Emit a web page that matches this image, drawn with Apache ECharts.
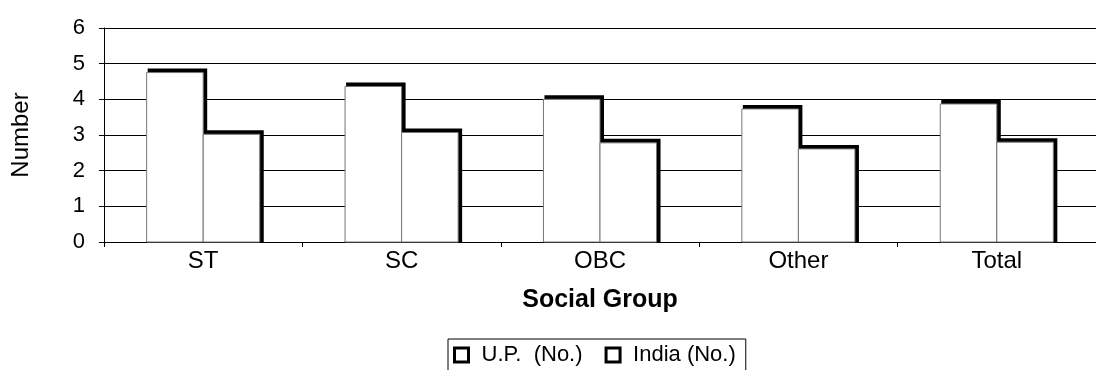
<!DOCTYPE html>
<html>
	<head>
		<meta charset="utf-8" />
		<title></title>
		<script src="https://cdn.jsdelivr.net/npm/echarts@6/dist/echarts.min.js"></script>
		<style>
			html, body { margin: 0; padding: 0; background: #fff; }
			#chart { width: 1096px; height: 370px; }
		</style>
	</head>
	<body>
		<div id="chart"></div>
		<script>
			// 数据
			var categories = ['ST', 'SC', 'OBC', 'Other', 'Total'];
			var upNo = [4.75, 4.36, 4.0, 3.73, 3.87];
			var indiaNo = [3.02, 3.07, 2.78, 2.61, 2.8];
			var yTicks = [0, 6, 1]; // min, max, interval

			var font = '"Liberation Sans", Arial, sans-serif';

			// 白色柱子, 上边和右边一条粗黑边(老Excel的样子)
			function drawBar(side) {
				return function (params, api) {
					var top = api.coord([api.value(0), api.value(1)]);
					var base = api.coord([api.value(0), 0]);
					var bw = api.size([1, 0])[0] * 0.285;
					var x0 = side < 0 ? top[0] - bw : top[0];
					return {
						type: 'group',
						children: [
							{ type: 'rect', shape: { x: x0 + 1, y: top[1] - 4, width: bw + 3, height: base[1] - top[1] + 4 }, style: { fill: '#000' } },
							{ type: 'rect', shape: { x: x0, y: top[1], width: bw, height: base[1] - top[1] }, style: { fill: '#fff', stroke: '#777', lineWidth: 1 } }
						]
					};
				};
			}
			function toData(arr) {
				return arr.map(function (v, i) { return [i, v]; });
			}

			var chart = echarts.init(document.getElementById('chart'));
			var option = {
				animation: false,
				textStyle: { fontFamily: font, color: '#000' },
				grid: { left: 104, top: 28, bottom: 128, width: 1001, containLabel: false },
				legend: {
					left: 448,
					top: 339,
					padding: [5, 10, 8, 5],
					borderColor: '#000',
					borderWidth: 1,
					itemWidth: 14,
					itemHeight: 14,
					itemGap: 22,
					icon: 'rect',
					itemStyle: { color: '#fff', borderColor: '#000', borderWidth: 3 },
					textStyle: { fontSize: 22, color: '#000', fontFamily: font, padding: [0, 0, 0, 8] },
					data: ['U.P.  (No.)', 'India (No.)']
				},
				xAxis: {
					type: 'category',
					data: categories,
					name: 'Social Group',
					nameLocation: 'middle',
					nameGap: 46,
					nameTextStyle: { fontSize: 25, fontWeight: 'bold', color: '#000' },
					axisLine: { lineStyle: { color: '#000', width: 1 } },
					axisTick: { show: true, length: 5, lineStyle: { color: '#000' } },
					axisLabel: { fontSize: 24, color: '#000', margin: 7 },
					splitLine: { show: false }
				},
				yAxis: {
					type: 'value',
					min: yTicks[0],
					max: yTicks[1],
					interval: yTicks[2],
					name: 'Number',
					nameLocation: 'middle',
					nameGap: 71,
					nameTextStyle: { fontSize: 24, color: '#000' },
					axisLine: { show: true, lineStyle: { color: '#000', width: 1 } },
					axisTick: { show: true, length: 5, inside: false, lineStyle: { color: '#000' } },
					axisLabel: { fontSize: 22, color: '#000', margin: 19 },
					splitLine: { show: true, lineStyle: { color: '#000', width: 1 } }
				},
				series: [
					{
						name: 'U.P.  (No.)',
						type: 'custom',
						renderItem: drawBar(-1),
						encode: { x: 0, y: 1 },
						data: toData(upNo)
					},
					{
						name: 'India (No.)',
						type: 'custom',
						renderItem: drawBar(1),
						encode: { x: 0, y: 1 },
						data: toData(indiaNo)
					}
				]
			};
			chart.setOption(option);
		</script>
	</body>
</html>
